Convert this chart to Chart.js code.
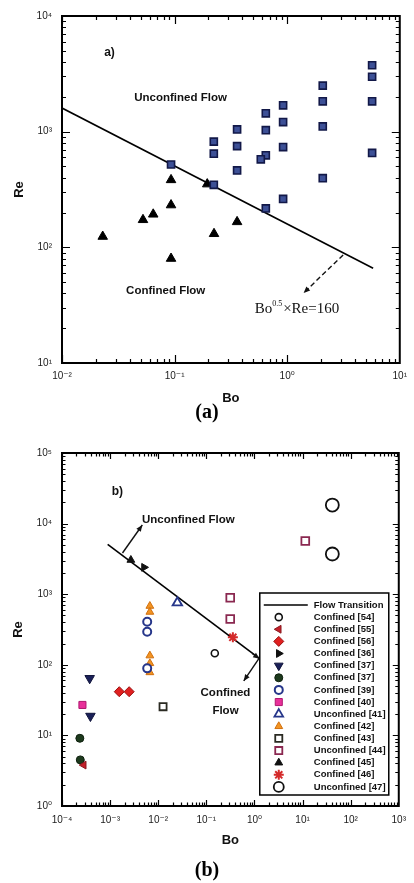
<!DOCTYPE html>
<html>
<head>
<meta charset="utf-8">
<script src="https://cdn.jsdelivr.net/npm/chart.js@4.4.0/dist/chart.umd.min.js"></script>
<style>
  body { margin: 0; background: #fff; width: 414px; height: 883px; position: relative; overflow: hidden; }
  canvas { position: absolute; left: 0; }
  #chartA { top: 0; }
  #chartB { top: 430px; }
  .cap { position: absolute; left: 0; width: 414px; text-align: center; line-height: 22px;
         font: bold 20px 'Liberation Serif', 'Times New Roman', serif; color: #000; }
</style>
</head>
<body>
<canvas id="chartA" width="414" height="406"></canvas>
<div class="cap" style="top:400px">(a)</div>
<canvas id="chartB" width="414" height="420"></canvas>
<div class="cap" style="top:858px">(b)</div>
<script>
'use strict';

// ---- panel (a) data ----
const boTicksA = [1e-2, 1e-1, 1, 10];
const reTicksA = [10, 100, 1e3, 1e4];

const boUnconfinedA = [5.68, 5.68, 5.68, 5.68, 2.07, 2.07, 2.07, 2.07, 0.92, 0.92, 0.92, 0.92,
  0.646, 0.646, 0.646, 0.583, 0.646, 0.359, 0.359, 0.359, 0.223, 0.223, 0.223, 0.093];
const reUnconfinedA = [3750, 2985, 1830, 655, 2500, 1830, 1110, 396, 1690, 1210, 736, 262,
  1440, 1030, 624, 577, 217, 1046, 750, 462, 820, 645, 347, 520];

const boConfinedA = [0.093, 0.195, 0.093, 0.0646, 0.0524, 0.023, 0.093, 0.224, 0.359];
const reConfinedA = [383, 352, 232, 193, 173, 124, 80, 131, 166];

// Bo^0.5 x Re = 160
const boTransitionA = [0.01, 5.8];
const reTransitionA = [1600, 66];

// ---- panel (b) data ----
const boTicksB = [1e-4, 1e-3, 1e-2, 1e-1, 1, 10, 100, 1000];
const reTicksB = [1, 10, 100, 1e3, 1e4, 1e5];

const boTransitionB = [8.9e-4, 1.28];
const reTransitionB = [5090, 122];

const bo54 = [0.15];                 const re54 = [146];
const bo55 = [2.83e-4];              const re55 = [3.8];
const bo56 = [1.55e-3, 2.49e-3];     const re56 = [41.6, 41.6];
const bo36 = [5.06e-3];              const re36 = [2400];
const bo37a = [3.76e-4, 3.9e-4];     const re37a = [64.4, 18.8];
const bo37b = [2.35e-4, 2.4e-4];     const re37b = [9.1, 4.5];
const bo39 = [0.0059, 0.0059, 0.0059]; const re39 = [408, 294, 89];
const bo40 = [2.66e-4];              const re40 = [27];
const bo41 = [0.025];                const re41 = [758];
const bo42 = [0.0067, 0.0067, 0.0067, 0.0067, 0.0067]; const re42 = [680, 560, 135, 105, 78];
const bo43 = [0.0126];               const re43 = [25.5];
const bo44 = [11.4, 0.314, 0.314];   const re44 = [5670, 892, 445];
const bo45 = [2.7e-3];               const re45 = [3050];
const bo46 = [0.356];                const re46 = [245];
const bo47 = [41.6, 41.6];           const re47 = [18300, 3710];

// ---- helpers ----
const SANS = "'Liberation Sans', Arial, 'DejaVu Sans', sans-serif";
const SERIF = "'Liberation Serif', 'Times New Roman', serif";
const sup = { '-': '\u207B', '0': '\u2070', '1': '\u00B9', '2': '\u00B2', '3': '\u00B3',
  '4': '\u2074', '5': '\u2075', '6': '\u2076', '7': '\u2077', '8': '\u2078', '9': '\u2079' };

function powLabel(v) {
  const e = Math.round(Math.log10(v));
  return '10' + String(e).split('').map(c => sup[c]).join('');
}

function pts(xs, ys) {
  return xs.map((x, i) => ({ x: x, y: ys[i] }));
}

function logAxis(list, title, horizontal, fit, titlePad, tickPad) {
  return {
    type: 'logarithmic',
    min: list[0],
    max: list[list.length - 1],
    grid: { display: false, drawTicks: false },
    border: { display: false },
    ticks: {
      autoSkip: false, maxRotation: 0, padding: tickPad, color: '#1a1a1a',
      font: { family: SANS, size: 10 },
      callback: v => powLabel(v)
    },
    afterBuildTicks: s => { s.ticks = list.map(v => ({ value: v })); },
    afterFit: s => { if (horizontal) s.height = fit; else s.width = fit; },
    title: {
      display: true, text: title, color: '#111',
      font: { family: SANS, size: 13, weight: 'bold' },
      padding: titlePad
    }
  };
}

// box round the plot with inward log ticks on all four sides
const frame = {
  id: 'frame',
  beforeDatasetsDraw(chart, args, opts) {
    const { ctx, chartArea: a, scales } = chart;
    ctx.save();
    ctx.strokeStyle = '#000';
    ctx.lineWidth = 1.2;
    ctx.beginPath();
    ['x', 'y'].forEach(id => {
      const s = scales[id];
      const lo = Math.log10(s.min), hi = Math.log10(s.max);
      for (let e = Math.floor(lo); e < Math.round(hi); e++) {
        for (let m = 1; m < 10; m++) {
          const v = m * Math.pow(10, e);
          const p = Math.round(s.getPixelForValue(v)) + 0.5;
          const len = m === 1 ? opts.major : opts.minor;
          if (id === 'x') {
            ctx.moveTo(p, a.bottom); ctx.lineTo(p, a.bottom - len);
            ctx.moveTo(p, a.top); ctx.lineTo(p, a.top + len);
          } else {
            ctx.moveTo(a.left, p); ctx.lineTo(a.left + len, p);
            ctx.moveTo(a.right, p); ctx.lineTo(a.right - len, p);
          }
        }
      }
    });
    ctx.stroke();
    ctx.lineWidth = 2;
    ctx.strokeRect(a.left, a.top, a.right - a.left, a.bottom - a.top);
    ctx.restore();
  }
};

function arrowHead(ctx, x0, y0, x1, y1, len) {
  const ang = Math.atan2(y1 - y0, x1 - x0);
  ctx.beginPath();
  ctx.moveTo(x1, y1);
  ctx.lineTo(x1 - len * Math.cos(ang - 0.4), y1 - len * Math.sin(ang - 0.4));
  ctx.lineTo(x1 - len * Math.cos(ang + 0.4), y1 - len * Math.sin(ang + 0.4));
  ctx.closePath();
  ctx.fill();
}

// text labels and arrows placed in (Bo, Re) coordinates
const notes = {
  id: 'notes',
  afterDatasetsDraw(chart, args, opts) {
    const { ctx, scales: { x, y } } = chart;
    ctx.save();
    ctx.fillStyle = '#111';
    ctx.strokeStyle = '#111';
    (opts.arrows || []).forEach(a => {
      const x0 = x.getPixelForValue(a.from[0]), y0 = y.getPixelForValue(a.from[1]);
      const x1 = x.getPixelForValue(a.to[0]), y1 = y.getPixelForValue(a.to[1]);
      ctx.lineWidth = 1.4;
      ctx.setLineDash(a.dash || []);
      ctx.beginPath(); ctx.moveTo(x0, y0); ctx.lineTo(x1, y1); ctx.stroke();
      ctx.setLineDash([]);
      arrowHead(ctx, x0, y0, x1, y1, 7);
    });
    (opts.texts || []).forEach(t => {
      let px = x.getPixelForValue(t.at[0]);
      const py = y.getPixelForValue(t.at[1]);
      ctx.textBaseline = 'middle';
      if (t.parts) {
        ctx.textAlign = 'left';
        t.parts.forEach(p => {
          ctx.font = p.sup ? t.supFont : t.font;
          ctx.fillText(p.text, px, p.sup ? py - 5 : py);
          px += ctx.measureText(p.text).width + (p.sup ? 1 : 0);
        });
      } else {
        ctx.font = t.font;
        ctx.textAlign = t.align || 'center';
        ctx.fillText(t.text, px, py);
      }
    });
    ctx.restore();
  }
};

// boxed legend inside the lower right of panel (b)
const boxLegend = {
  id: 'boxLegend',
  afterDatasetsDraw(chart, args, opts) {
    if (!opts.show) return;
    const { ctx, chartArea: a } = chart;
    const right = a.right - opts.offRight, bottom = a.bottom - opts.offBottom;
    const left = right - opts.width, top = bottom - opts.height;
    ctx.save();
    ctx.fillStyle = '#fff';
    ctx.fillRect(left, top, opts.width, opts.height);
    ctx.strokeStyle = '#000';
    ctx.lineWidth = 1.5;
    ctx.strokeRect(left, top, opts.width, opts.height);
    ctx.font = 'bold 9.5px ' + SANS;
    ctx.textBaseline = 'middle';
    ctx.textAlign = 'left';
    chart.data.datasets.forEach((ds, i) => {
      const ry = top + 12 + i * opts.step;
      const mx = left + 19;
      if (ds.showLine) {
        ctx.strokeStyle = ds.borderColor;
        ctx.lineWidth = 1.5;
        ctx.beginPath(); ctx.moveTo(left + 4, ry); ctx.lineTo(left + 48, ry); ctx.stroke();
      } else {
        ctx.fillStyle = ds.backgroundColor;
        ctx.strokeStyle = ds.borderColor;
        ctx.lineWidth = ds.borderWidth;
        Chart.helpers.drawPoint(ctx, {
          pointStyle: ds.pointStyle, rotation: ds.rotation || 0,
          radius: Math.min(ds.pointRadius, 5), borderWidth: ds.borderWidth
        }, mx, ry);
      }
      ctx.fillStyle = '#111';
      ctx.fillText(ds.label, left + 54, ry);
    });
    ctx.restore();
  }
};

Chart.register(frame, notes, boxLegend);

function series(label, xs, ys, style) {
  return Object.assign({ label: label, data: pts(xs, ys), borderWidth: 1.5 }, style);
}

const baseOptions = (xAxis, yAxis, padding, pluginOpts) => ({
  responsive: false,
  animation: false,
  events: [],
  layout: { padding: padding },
  scales: { x: xAxis, y: yAxis },
  plugins: Object.assign({ legend: { display: false }, tooltip: { enabled: false } }, pluginOpts)
});

// ---- panel (a) ----
new Chart(document.getElementById('chartA'), {
  type: 'scatter',
  data: {
    datasets: [
      series('Bo^0.5 x Re = 160', boTransitionA, reTransitionA, {
        showLine: true, borderColor: '#000', borderWidth: 1.6, pointRadius: 0, order: 1
      }),
      series('Unconfined Flow', boUnconfinedA, reUnconfinedA, {
        pointStyle: 'rect', pointRadius: 5, backgroundColor: '#3d5096', borderColor: '#121848', borderWidth: 1.6
      }),
      series('Confined Flow', boConfinedA, reConfinedA, {
        pointStyle: 'triangle', pointRadius: 5.5, backgroundColor: '#000', borderColor: '#000', borderWidth: 1
      })
    ]
  },
  options: baseOptions(
    logAxis(boTicksA, 'Bo', true, 43, { top: 0, bottom: 0 }, 7),
    logAxis(reTicksA, 'Re', false, 62, { top: 12, bottom: 0 }, 10),
    { top: 10, right: 10, left: 0, bottom: 0 },
    {
      frame: { major: 8, minor: 4 },
      notes: {
        arrows: [{ from: [3.14, 86], to: [1.40, 40.3], dash: [5, 3] }],
        texts: [
          { text: 'a)', at: [0.0264, 4840], font: 'bold 12px ' + SANS },
          { text: 'Unconfined Flow', at: [0.113, 1968], font: 'bold 11.5px ' + SANS },
          { text: 'Confined Flow', at: [0.0834, 41.7], font: 'bold 11.5px ' + SANS },
          {
            at: [0.514, 29.3], font: '15px ' + SERIF, supFont: '8px ' + SERIF,
            parts: [{ text: 'Bo' }, { text: '0.5', sup: true }, { text: '\u00D7Re=160' }]
          }
        ]
      },
      boxLegend: { show: false }
    }
  )
});

// ---- panel (b) ----
const open = '#fff';
new Chart(document.getElementById('chartB'), {
  type: 'scatter',
  data: {
    datasets: [
      series('Flow Transition', boTransitionB, reTransitionB, {
        showLine: true, borderColor: '#000', borderWidth: 1.6, pointRadius: 0, order: 1
      }),
      series('Confined [54]', bo54, re54, { pointStyle: 'circle', pointRadius: 3.5, backgroundColor: open, borderColor: '#111', borderWidth: 1.6 }),
      series('Confined [55]', bo55, re55, { pointStyle: 'triangle', rotation: -90, pointRadius: 4.5, backgroundColor: '#c4202a', borderColor: '#8a1a20', borderWidth: 1 }),
      series('Confined [56]', bo56, re56, { pointStyle: 'rectRot', pointRadius: 5, backgroundColor: '#e02020', borderColor: '#9a1010', borderWidth: 1 }),
      series('Confined [36]', bo36, re36, { pointStyle: 'triangle', rotation: 90, pointRadius: 4.5, backgroundColor: '#111', borderColor: '#111', borderWidth: 1 }),
      series('Confined [37]', bo37a, re37a, { pointStyle: 'triangle', rotation: 180, pointRadius: 5.5, backgroundColor: '#1a2058', borderColor: '#10143a', borderWidth: 1 }),
      series('Confined [37]', bo37b, re37b, { pointStyle: 'circle', pointRadius: 4, backgroundColor: '#1d3a1d', borderColor: '#0e200e', borderWidth: 1 }),
      series('Confined [39]', bo39, re39, { pointStyle: 'circle', pointRadius: 4, backgroundColor: open, borderColor: '#26368a', borderWidth: 2 }),
      series('Confined [40]', bo40, re40, { pointStyle: 'rect', pointRadius: 5, backgroundColor: '#e8309a', borderColor: '#b01870', borderWidth: 1 }),
      series('Unconfined [41]', bo41, re41, { pointStyle: 'triangle', pointRadius: 5.5, backgroundColor: open, borderColor: '#26368a', borderWidth: 1.8 }),
      series('Confined [42]', bo42, re42, { pointStyle: 'triangle', pointRadius: 4.5, backgroundColor: '#f39422', borderColor: '#d07010', borderWidth: 1 }),
      series('Confined [43]', bo43, re43, { pointStyle: 'rect', pointRadius: 5, backgroundColor: open, borderColor: '#2a2a22', borderWidth: 1.8 }),
      series('Unconfined [44]', bo44, re44, { pointStyle: 'rect', pointRadius: 5.5, backgroundColor: open, borderColor: '#8a2850', borderWidth: 1.8 }),
      series('Confined [45]', bo45, re45, { pointStyle: 'triangle', pointRadius: 4.5, backgroundColor: '#111', borderColor: '#111', borderWidth: 1 }),
      series('Confined [46]', bo46, re46, { pointStyle: 'star', pointRadius: 5, backgroundColor: '#d42a2a', borderColor: '#d42a2a', borderWidth: 2 }),
      series('Unconfined [47]', bo47, re47, { pointStyle: 'circle', pointRadius: 6.5, backgroundColor: open, borderColor: '#111', borderWidth: 1.8 })
    ]
  },
  options: baseOptions(
    logAxis(boTicksB, 'Bo', true, 44, { top: 0, bottom: 2 }, 8),
    logAxis(reTicksB, 'Re', false, 62, { top: 11, bottom: 0 }, 10),
    { top: 23, right: 11, left: 0, bottom: 0 },
    {
      frame: { major: 6, minor: 3.5 },
      notes: {
        arrows: [
          { from: [1.81e-3, 3836], to: [4.67e-3, 9550] },
          { from: [1.34, 133], to: [0.6, 59] },
          { from: [0.9, 145], to: [1.28, 122] }
        ],
        texts: [
          { text: 'b)', at: [1.41e-3, 28000], font: 'bold 12px ' + SANS },
          { text: 'Unconfined Flow', at: [4.6e-3, 11250], font: 'bold 11.5px ' + SANS, align: 'left' },
          { text: 'Confined', at: [0.25, 39.8], font: 'bold 11.5px ' + SANS },
          { text: 'Flow', at: [0.25, 22.2], font: 'bold 11.5px ' + SANS }
        ]
      },
      boxLegend: { show: true, offRight: 10, offBottom: 11, width: 129, height: 202, step: 12.13 }
    }
  )
});
</script>
</body>
</html>
